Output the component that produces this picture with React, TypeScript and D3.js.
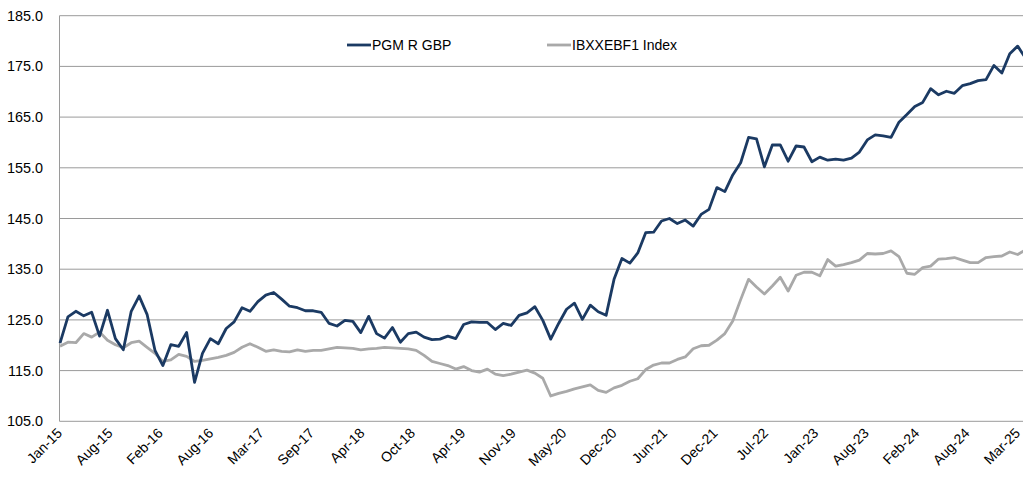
import React from "react";
import * as d3 from "d3";

const tickLabels = ["Jan-15","Aug-15","Feb-16","Aug-16","Mar-17","Sep-17","Apr-18","Oct-18","Apr-19","Nov-19","May-20","Dec-20","Jun-21","Dec-21","Jul-22","Jan-23","Aug-23","Feb-24","Aug-24","Mar-25"];
const yTicks = [105, 115, 125, 135, 145, 155, 165, 175, 185];

const pgmValues = [
  120.4,125.6,126.7,125.8,126.5,121.8,126.9,121.3,119.1,126.7,129.7,126.1,
  119.0,116.0,120.1,119.8,122.5,112.7,118.4,121.3,120.3,123.3,124.6,127.4,
  126.7,128.6,129.9,130.4,129.1,127.7,127.4,126.8,126.8,126.5,124.3,123.8,
  124.9,124.7,122.5,125.7,122.3,121.4,123.5,120.6,122.3,122.6,121.6,121.1,
  121.2,121.8,121.3,124.1,124.6,124.5,124.5,123.1,124.3,123.9,125.9,126.4,
  127.6,124.9,121.2,124.3,127.1,128.3,125.1,127.9,126.6,125.9,133.0,137.1,
  136.2,138.2,142.2,142.3,144.5,145.0,144.0,144.7,143.5,145.8,146.8,151.1,
  150.3,153.6,156.0,161.0,160.7,155.2,159.5,159.5,156.3,159.3,159.1,156.2,
  157.1,156.5,156.7,156.5,156.9,158.1,160.5,161.5,161.3,161.0,164.0,165.5,
  167.1,167.9,170.6,169.4,170.1,169.7,171.2,171.6,172.2,172.4,175.2,173.7,
  177.5,179.0,176.6
];

const ibxValues = [
  119.8,120.6,120.5,122.3,121.6,122.6,121.0,120.1,119.5,120.5,120.8,119.6,
  118.4,116.8,117.1,118.2,117.8,116.8,117.0,117.3,117.6,118.0,118.6,119.6,
  120.3,119.6,118.8,119.1,118.8,118.7,119.1,118.8,119.0,119.0,119.3,119.6,
  119.5,119.4,119.1,119.3,119.4,119.6,119.5,119.4,119.3,119.0,118.0,116.8,
  116.4,116.0,115.3,115.8,115.0,114.7,115.3,114.3,114.0,114.3,114.7,115.1,
  114.5,113.5,110.0,110.5,110.9,111.4,111.8,112.2,111.1,110.7,111.6,112.1,
  112.9,113.4,115.2,116.1,116.5,116.5,117.2,117.7,119.3,119.9,120.0,121.0,
  122.3,124.8,129.0,133.0,131.5,130.1,131.7,133.4,130.7,133.8,134.4,134.4,
  133.7,136.9,135.6,135.9,136.3,136.8,138.1,138.0,138.1,138.6,137.5,134.2,
  134.0,135.3,135.6,137.0,137.1,137.3,136.8,136.3,136.3,137.3,137.5,137.6,
  138.4,137.9,138.8
];

const seriesNames = ["PGM R GBP", "IBXXEBF1 Index"];

const W = 1023;
const H = 479;
const DARK = "#1b3a63";
const GRAY = "#a9a9a9";
const FONT = "'Liberation Sans', Arial, sans-serif";

export default function App() {
  const n = pgmValues.length;
  const x = d3.scaleLinear().domain([0, n - 1]).range([60, 1025.6]);
  const y = d3.scaleLinear().domain([105, 185]).range([421.3, 15.7]);
  const xLab = d3.scaleLinear().domain([0, tickLabels.length - 1]).range([60, 1018]);
  const line = d3
    .line<number>()
    .x((_, i) => x(i))
    .y((d) => y(d));

  return (
    <div style={{ position: "fixed", left: 0, top: 0, width: W, height: H, background: "#fff" }}>
      <svg width={W} height={H} style={{ display: "block" }} fontFamily={FONT}>
        {yTicks.map((t) => (
          <g key={t}>
            <line x1={59.5} x2={W + 5} y1={y(t)} y2={y(t)} stroke="#9a9a9a" strokeWidth={1} />
            <text x={43} y={y(t)} dy="0.35em" textAnchor="end" fontSize={14.4} fill="#000">
              {t.toFixed(1)}
            </text>
          </g>
        ))}
        <line x1={59.5} x2={59.5} y1={y(185)} y2={y(105)} stroke="#9a9a9a" strokeWidth={1} />
        {tickLabels.map((lab, k) => {
          const tx = xLab(k);
          return (
            <text
              key={lab}
              transform={`translate(${tx + 3},${434}) rotate(-45)`}
              textAnchor="end"
              fontSize={14}
              fill="#000"
            >
              {lab}
            </text>
          );
        })}
        <path d={line(ibxValues) || ""} fill="none" stroke={GRAY} strokeWidth={2.8} strokeLinejoin="round" />
        <path d={line(pgmValues) || ""} fill="none" stroke={DARK} strokeWidth={2.8} strokeLinejoin="round" />
        <g>
          <line x1={347} x2={371} y1={45} y2={45} stroke={DARK} strokeWidth={2.8} />
          <text x={372} y={45} dy="0.35em" fontSize={14} fill="#000">{seriesNames[0]}</text>
          <line x1={547} x2={571} y1={45} y2={45} stroke={GRAY} strokeWidth={2.8} />
          <text x={572} y={45} dy="0.35em" fontSize={14} fill="#000">{seriesNames[1]}</text>
        </g>
      </svg>
    </div>
  );
}
